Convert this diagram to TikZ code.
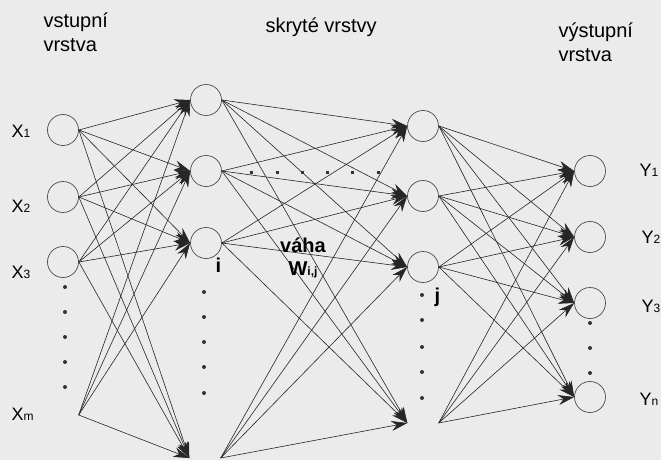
\documentclass[tikz,border=0pt]{standalone}
\usepackage{fontspec}
\setmainfont{Liberation Sans}
\usetikzlibrary{arrows.meta, positioning}

\newcommand{\lsub}[1]{{\fontsize{12}{14}\selectfont #1}}

\begin{document}
\begin{tikzpicture}[
    x=1pt, y=-1pt,
    neuron/.style={draw=black!70, circle, minimum size=31pt, inner sep=0pt, line width=0.7pt},
    ghost/.style={circle, minimum size=31pt, inner sep=0pt},
    arrow/.style={-{Stealth[length=16pt, width=10pt]}, draw=black!85, line width=0.6pt},
    layer/.style={font=\fontsize{20}{24}\selectfont, align=left, anchor=base west},
    lbl/.style={font=\fontsize{18}{20}\selectfont, anchor=base west},
    bold/.style={font=\fontsize{20}{23}\selectfont\bfseries, align=center}
]

\fill[black!8] (0,0) rectangle (661,460);
\useasboundingbox (0,0) rectangle (661,460);

% Layer titles
\node[layer] (tin) at (40,52) {vstupní\\vrstva};
\node[layer] (thid) at (262,33) {skryté vrstvy};
\node[layer] (tout) at (555,62) {výstupní\\vrstva};

% Input layer
\node[neuron] (x1) at (63,130) {};
\node[neuron] (x2) at (63,197) {};
\node[neuron] (x3) at (63,262) {};
\node[ghost] (xm) at (63,415) {};

% Hidden layers
\node[neuron] (h1) at (206,100) {};
\node[neuron] (h2) at (206,171) {};
\node[neuron] (h3) at (206,243) {};
\node[ghost] (h4) at (205,458) {};

\node[neuron] (g1) at (423,126) {};
\node[neuron] (g2) at (423,196) {};
\node[neuron] (g3) at (423,267) {};
\node[ghost] (g4) at (423,423) {};

% Output layer
\node[neuron] (y1) at (590,171) {};
\node[neuron] (y2) at (590,237) {};
\node[neuron] (y3) at (590,303) {};
\node[neuron] (yn) at (590,397) {};

% Connections
\foreach \a in {x1,x2,x3,xm}
  \foreach \b in {h1,h2,h3,h4}
    \draw[arrow] (\a.east) -- (\b.west);
\foreach \a in {h1,h2,h3,h4}
  \foreach \b in {g1,g2,g3,g4}
    \draw[arrow] (\a.east) -- (\b.west);
\foreach \a in {g1,g2,g3,g4}
  \foreach \b in {y1,y2,y3,yn}
    \draw[arrow] (\a.east) -- (\b.west);

% Dots
\foreach \y in {287,312,337,362,387} \fill[black!80] (65,\y) circle (2pt);
\foreach \y in {292,317,342,367,393} \fill[black!80] (204,\y) circle (2pt);
\foreach \y in {295,320,347,372,398} \fill[black!80] (422,\y) circle (2pt);
\foreach \y in {323,348,373} \fill[black!80] (590,\y) circle (2pt);
\foreach \x in {251,277,302,327,352,378} \fill[black!80] (\x-1.5,170.5) rectangle ++(3,3);

% Labels
\node[lbl] (lx1) at (8,137) {X\lsub{1}};
\node[lbl] (lx2) at (8,212) {X\lsub{2}};
\node[lbl] (lx3) at (8,278) {X\lsub{3}};
\node[lbl] (lxm) at (8,420) {X\lsub{m}};
\node[lbl] (ly1) at (636,176) {Y\lsub{1}};
\node[lbl] (ly2) at (638,243) {Y\lsub{2}};
\node[lbl] (ly3) at (638,312) {Y\lsub{3}};
\node[lbl] (lyn) at (636,405) {Y\lsub{n}};

\node[bold, anchor=base west] (li) at (212,272) {i};
\node[bold, anchor=base west] (lj) at (431,302) {j};
\node[bold, anchor=base] (w) at (303,275) {váha\\W{\fontsize{12}{14}\selectfont i,j}};

\end{tikzpicture}
\end{document}
